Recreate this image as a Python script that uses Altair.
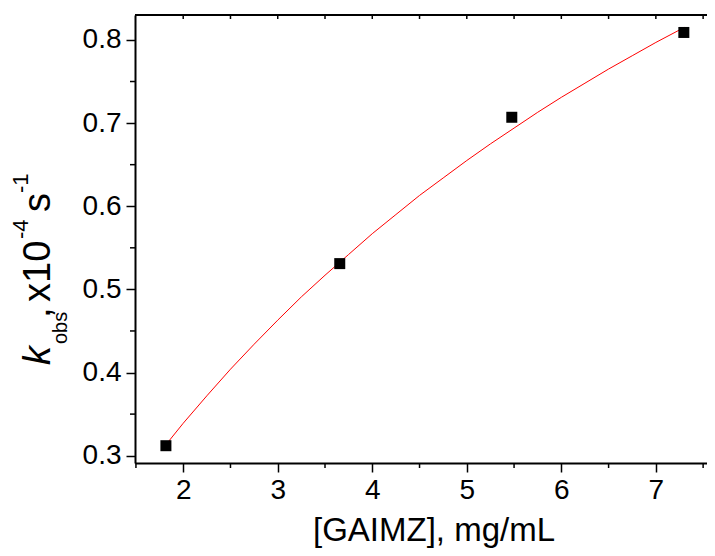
import altair as alt
import pandas as pd

# measured data points
conc = [1.817, 3.656, 5.476, 7.296]
kobs = [0.312, 0.531, 0.707, 0.809]

# fitted curve
fit_x = [1.83, 2.00, 2.25, 2.50, 2.75, 3.00, 3.25, 3.50, 3.75, 4.00, 4.25, 4.50,
         4.75, 5.00, 5.25, 5.50, 5.75, 6.00, 6.25, 6.50, 6.75, 7.00, 7.30]
fit_y = [0.315, 0.339, 0.372, 0.404, 0.434, 0.463, 0.491, 0.517, 0.542, 0.567, 0.590, 0.613,
         0.634, 0.655, 0.675, 0.694, 0.713, 0.731, 0.748, 0.765, 0.781, 0.797, 0.815]

x_ticks = [2, 3, 4, 5, 6, 7]
y_ticks = [0.3, 0.4, 0.5, 0.6, 0.7, 0.8]
x_minor = [1.5, 2.5, 3.5, 4.5, 5.5, 6.5, 7.5]
y_minor = [0.35, 0.45, 0.55, 0.65, 0.75]
top_ticks = [2.0, 2.5, 3.0, 3.5, 4.0, 4.5, 5.0, 5.5, 6.0, 6.5, 7.0, 7.5]

W, H = 572, 448
FONT = "Liberation Sans"

xs = alt.Scale(domain=[1.49, 7.541], nice=False, zero=False)
ys = alt.Scale(domain=[0.2912, 0.830], nice=False, zero=False)

xaxis = alt.Axis(values=x_ticks, format="d", title="[GAIMZ], mg/mL", grid=False,
                 labelFont=FONT, labelFontSize=28, labelColor="black", labelPadding=4,
                 labelFlush=False, tickSize=9, tickWidth=1.5, tickColor="black",
                 domainColor="black", domainWidth=2,
                 titleFont=FONT, titleFontSize=33, titleFontWeight="normal", titleColor="black",
                 titleX=298.5, titleY=77, titleAlign="center", titleBaseline="alphabetic")
yaxis = alt.Axis(values=y_ticks, format=".1f", title=None, grid=False,
                 labelFont=FONT, labelFontSize=28, labelColor="black", labelPadding=5,
                 labelFlush=False, tickSize=9, tickWidth=1.5, tickColor="black",
                 domainColor="black", domainWidth=2)

fit_df = pd.DataFrame({"x": fit_x, "y": fit_y})
pts_df = pd.DataFrame({"x": conc, "y": kobs})
one = pd.DataFrame({"a": [0]})

fit = alt.Chart(fit_df).mark_line(color="#ff0000", strokeWidth=1).encode(
    x=alt.X("x:Q", scale=xs, axis=xaxis), y=alt.Y("y:Q", scale=ys, axis=yaxis))

pts = alt.Chart(pts_df).mark_point(shape="square", filled=True, size=121,
                                   color="black", opacity=1).encode(
    x=alt.X("x:Q", scale=xs, axis=xaxis), y=alt.Y("y:Q", scale=ys, axis=yaxis))

minor_x = alt.Chart(pd.DataFrame({"v": x_minor})).mark_rule(color="black", strokeWidth=1.5).encode(
    x=alt.X("v:Q", scale=xs, axis=xaxis), y=alt.value(H), y2=alt.value(H + 5))

minor_y = alt.Chart(pd.DataFrame({"v": y_minor})).mark_rule(color="black", strokeWidth=1.5).encode(
    y=alt.Y("v:Q", scale=ys, axis=yaxis), x=alt.value(-5), x2=alt.value(0))

top_t = alt.Chart(pd.DataFrame({"v": top_ticks})).mark_rule(color="black", strokeWidth=1.5).encode(
    x=alt.X("v:Q", scale=xs, axis=xaxis), y=alt.value(0), y2=alt.value(4))

top_line = alt.Chart(one).mark_rule(color="black", strokeWidth=2).encode(
    x=alt.value(0), x2=alt.value(W), y=alt.value(0))


def ytext(txt, x, y, size, style="normal"):
    return alt.Chart(pd.DataFrame({"t": [txt]})).mark_text(
        angle=270, align="left", baseline="alphabetic", font=FONT,
        fontSize=size, fontStyle=style, color="black").encode(
        text="t:N", x=alt.value(x), y=alt.value(y))


# y-axis title: k_obs , x10^-4 s^-1  (plot origin at page x=135, y=15)
OX, OY = 135, 15
t1 = ytext("k", 50 - OX, 365 - OY, 38, "italic")
t2 = ytext("obs", 67 - OX, 344 - OY, 20)
t3 = ytext(",", 50 - OX, 318 - OY, 38)
t4 = ytext("x10", 50 - OX, 302 - OY, 38)
t5 = ytext("-4", 28 - OX, 239 - OY, 22)
t6 = ytext("s", 50 - OX, 212 - OY, 38)
t7 = ytext("-1", 28 - OX, 193 - OY, 22)

chart = alt.layer(
    fit, pts, minor_x, minor_y, top_t, top_line, t1, t2, t3, t4, t5, t6, t7
).properties(
    width=W, height=H,
    padding={"left": 127, "top": 7, "right": 0, "bottom": 85},
    autosize=alt.AutoSizeParams(type="none"),
    background="white",
).configure_view(stroke=None)

chart.save("out.html", embed_options={"renderer": "svg", "actions": False})
